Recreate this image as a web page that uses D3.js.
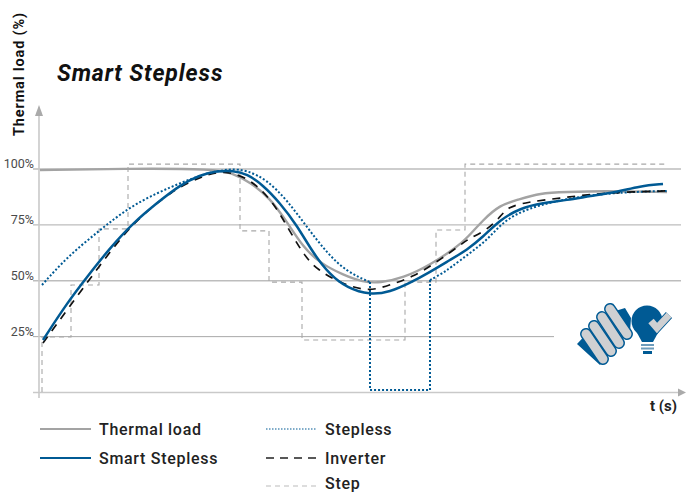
<!DOCTYPE html>
<html><head><meta charset="utf-8">
<script src="https://cdn.jsdelivr.net/npm/d3@7"></script>
<style>html,body{margin:0;background:#fff}svg{display:block}text{font-family:Roboto,"Noto Sans",sans-serif}</style>
</head><body><svg id="c" width="686" height="493"></svg>
<script>
const yTicks=[25,50,75,100];
const tickLabels=["25%","50%","75%","100%"];
const thermalT=[0,90,175,192,210,230,247,263,280,303,323,340,363,390,417,427,443,460,477,500,527,560,627];
const thermalV=[99.5,100.2,100,98.2,94.2,87,76.3,65.1,57.9,52.6,49.4,49,51.2,57,65.1,69.1,77.2,83.9,86.1,89.3,89.7,90.2,89.7];
const smartT=[3,27,47,70,93,117,140,160,177,193,207,223,240,257,273,290,307,330,350,370,390,410,427,443,460,480,503,527,550,577,600,623];
const smartV=[23.5,40,51.7,64.7,75.8,84.8,92.8,97.3,99.1,99.3,97.8,92.8,84.8,74.8,62.4,52.6,46.8,43.6,45,49,53.9,59.3,63.8,69.6,77.2,82.5,84.8,86.1,87.9,89.7,92.4,93.3];
const steplessAT=[2,27,60,88,117,143,167,180,190,207,227,247,267,287,307,330];
const steplessAV=[48.1,60.6,72.7,82.5,89.3,94.2,98.2,99.1,100,99.5,95.1,86.1,74,62.4,53.9,49.4];
const steplessDropT=[330,330,390,390];
const steplessDropV=[49.4,1.1,1.1,50.3];
const steplessBT=[390,403,410,430,447,460,477,500,527,553,587,627];
const steplessBV=[50.3,53.5,55.7,62.4,68.2,74.9,80.3,83.9,86.6,88.4,89.7,90.2];
const inverterT=[3,27,60,93,133,160,177,190,210,232,248,265,278,300,328,350,373,397,423,430,447,460,468,487,520,553,587,627];
const inverterV=[22.1,36.9,57,76.3,90.6,96.4,98.6,98.6,95.5,86.1,73.6,60.6,54.8,49,45,48.1,51.7,58.4,66.9,69.1,72.7,78.5,83,85.2,87,88.8,89.7,90.2];
const stepT=[2,2,31,31,59,59,88,88,200,200,229,229,262,262,365,365,396,396,425,425,628];
const stepV=[0.2,24.8,24.8,48.1,48.1,73.2,73.2,102.2,102.2,72.3,72.3,49.4,49.4,23.5,23.5,49.4,49.4,72.7,72.7,102.2,102.2];
const legendLeft=["Thermal load","Smart Stepless"];
const legendRight=["Stepless","Inverter","Step"];

const BLUE="#005a94",GRAY="#a3a3a3",FAINT="#c9c9c9",STEP="#a8a8a8";
const svg=d3.select("#c");
const x=d3.scaleLinear().domain([0,628]).range([40,668]);
const y=d3.scaleLinear().domain([0,100]).range([392.5,169]);
const zip=(a,b)=>a.map((t,i)=>[t,b[i]]);
const curve=d3.line().x(d=>x(d[0])).y(d=>y(d[1])).curve(d3.curveBasis);
const straight=d3.line().x(d=>x(d[0])).y(d=>y(d[1]));

// grid
const grid=svg.append("g");
yTicks.forEach((v,i)=>{
  grid.append("line").attr("x1",33).attr("x2",v===25?554:681).attr("y1",y(v)).attr("y2",y(v))
    .attr("stroke",v===25?"#a9a9a9":"#bdbdbd").attr("stroke-width",v===25?1:1.3);
  svg.append("text").attr("x",34).attr("y",y(v)-1).attr("text-anchor","end")
    .attr("font-size",12.5).attr("fill","#4a4a4a").text(tickLabels[i]);
});
// axes
grid.append("line").attr("x1",33).attr("x2",678).attr("y1",392.5).attr("y2",392.5).attr("stroke",FAINT).attr("stroke-width",1.5);
grid.append("line").attr("x1",39).attr("x2",39).attr("y1",115).attr("y2",398).attr("stroke",FAINT).attr("stroke-width",1.6);
grid.append("path").attr("d","M39 105L43 116L35 116Z").attr("fill","#aaa");
grid.append("path").attr("d","M686 392.5L678 388.5L678 396.5Z").attr("fill","#aaa");

// series
svg.append("path").attr("d",straight(zip(stepT,stepV))).attr("fill","none").attr("stroke",STEP).attr("stroke-width",1.1).attr("stroke-dasharray","5 4");
svg.append("path").attr("d",curve(zip(thermalT,thermalV))).attr("fill","none").attr("stroke",GRAY).attr("stroke-width",2.4);
[curve(zip(steplessAT,steplessAV)),straight(zip(steplessDropT,steplessDropV)),curve(zip(steplessBT,steplessBV))].forEach(d=>{
  svg.append("path").attr("d",d).attr("fill","none").attr("stroke",BLUE).attr("stroke-width",2).attr("stroke-dasharray","2 2");
});
svg.append("path").attr("d",curve(zip(inverterT,inverterV))).attr("fill","none").attr("stroke","#111").attr("stroke-width",1.7).attr("stroke-dasharray","8 7");
svg.append("path").attr("d",curve(zip(smartT,smartV))).attr("fill","none").attr("stroke",BLUE).attr("stroke-width",2.5);

// text
svg.append("text").attr("x",57).attr("y",81).attr("font-size",23).attr("font-weight",700).attr("font-style","italic").attr("letter-spacing",0.9).attr("fill","#111").text("Smart Stepless");
svg.append("text").attr("transform","translate(24,136) rotate(-90)").attr("font-size",14.5).attr("font-weight",700).attr("letter-spacing",0.85).attr("fill","#111").text("Thermal load (%)");
svg.append("text").attr("x",677).attr("y",411).attr("text-anchor","end").attr("font-size",15).attr("font-weight",700).attr("fill","#222").text("t (s)");

// legend
const L=(x1,yy,col,w,dash,label)=>{
  const l=svg.append("line").attr("x1",x1).attr("x2",x1+51).attr("y1",yy).attr("y2",yy).attr("stroke",col).attr("stroke-width",w);
  if(dash)l.attr("stroke-dasharray",dash);
  svg.append("text").attr("x",x1+59).attr("y",Math.min(yy+6,489)).attr("font-size",16).attr("font-weight",500).attr("letter-spacing",0.7).attr("fill","#222").text(label);
};
L(40,429,GRAY,1.8,null,legendLeft[0]);
L(40,458,BLUE,2,null,legendLeft[1]);
L(266,429,BLUE,1.2,"1.5 1.5",legendRight[0]);
L(266,458,"#222",1.5,"8 6",legendRight[1]);
L(266,486,"#bbb",1,"5 4",legendRight[2]);

// icon
const ic=svg.append("g");
ic.append("path").attr("d","M577 344L592 328L612 352L600 365Z M612 312L625 308L631 318L630 332L622 338Z").attr("fill",BLUE);
[[586,334,603,359],[594,326,611,351],[602,317,619,343],[610,309,627,334]].forEach(c=>{
  ic.append("line").attr("x1",c[0]).attr("y1",c[1]).attr("x2",c[2]).attr("y2",c[3]).attr("stroke",BLUE).attr("stroke-width",12).attr("stroke-linecap","round");
  ic.append("line").attr("x1",c[0]).attr("y1",c[1]).attr("x2",c[2]).attr("y2",c[3]).attr("stroke","#cfd0d2").attr("stroke-width",9).attr("stroke-linecap","round");
});
ic.append("circle").attr("cx",647).attr("cy",321).attr("r",15.5).attr("fill",BLUE);
ic.append("path").attr("d","M636 331L642 342L653 342L659 331Z").attr("fill",BLUE);
ic.append("path").attr("d","M641 344H654V346H641Z M641 347.5H654V349.5H641Z").attr("fill","#6d9cbc");
ic.append("path").attr("d","M643 351H652V354H643Z").attr("fill",BLUE);
ic.append("polyline").attr("points","651,321 657,328 669,315").attr("fill","none").attr("stroke","#005a94").attr("stroke-width",8.5);
ic.append("polyline").attr("points","651,321 657,328 669,315").attr("fill","none").attr("stroke","#cfd0d2").attr("stroke-width",7);
</script></body></html>
